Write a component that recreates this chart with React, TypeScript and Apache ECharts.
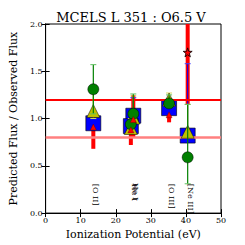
import React, { useEffect, useRef } from "react";
import * as echarts from "echarts";

// Ionization potentials (eV) of each plotted group
const clusterX = [13.6, 25.0, 24.3, 35.2, 40.5];
// Predicted / observed ratios per model
const blueVals = [0.95, 1.03, 0.92, 1.11, 0.82];
const yellowVals = [1.08, 1.01, 0.9, 1.2, 0.86];
const greenVals = [1.31, 1.05, 0.94, 1.16, 0.59];
const redVals = [0.91, 0.99, 0.88, 1.04];
const redStar = [[40.5, 1.7]];
// Error bar ranges [low, high]
const redErr = [[0.68, 0.93], [0.8, 1.25], [0.72, 1.0], [0.96, 1.12], [1.15, 2.0]];
const blueErr = [[0.9, 1.02], [0.98, 1.22], [0.88, 1.0], [1.05, 1.14], [0.82, 1.58]];
const yellowErr = [[1.0, 1.3], [0.95, 1.24], [0.85, 1.0], [1.15, 1.27], [0.8, 1.15]];
const greenErr = [[1.05, 1.57], [1.0, 1.26], [0.9, 1.05], [1.12, 1.25], [0.31, 1.15]];
// Reference lines
const refHigh = 1.2;
const refLow = 0.8;
// Line labels
const lineLabels = ["[O II]", "He I", "He I", "[O III]", "[Ne III]"];
const lineLabelX = [14.2, 25.3, 25.6, 35.8, 41.3];
const lineLabelY = [0.31, 0.31, 0.32, 0.31, 0.31];

const FONT = "DejaVu Serif";

function errSeries(name: string, ranges: number[][], color: string, width: number, cap: boolean, capColor: string, z: number) {
  return {
    name,
    type: "custom",
    z,
    data: ranges.map((r, i) => [clusterX[i], r[0], r[1]]),
    renderItem: (_p: any, api: any) => {
      const x = api.value(0);
      const p1 = api.coord([x, api.value(1)]);
      const p2 = api.coord([x, api.value(2)]);
      const children: any[] = [
        { type: "line", shape: { x1: p1[0], y1: p1[1], x2: p2[0], y2: p2[1] }, style: { stroke: color, lineWidth: width } },
      ];
      if (cap) {
        for (const p of [p1, p2]) {
          children.push({ type: "line", shape: { x1: p[0] - 3, y1: p[1], x2: p[0] + 3, y2: p[1] }, style: { stroke: capColor, lineWidth: 1 } });
        }
      }
      return { type: "group", children };
    },
  };
}

export default function App() {
  const ref = useRef<HTMLDivElement>(null);
  useEffect(() => {
    if (!ref.current) return;
    const chart = echarts.init(ref.current, undefined, { renderer: "svg" });
    const axisCommon = {
      axisLine: { show: true, lineStyle: { color: "#000", width: 1 } },
      axisTick: { show: true, inside: true, length: 4, lineStyle: { color: "#000" } },
      splitLine: { show: false },
    };
    chart.setOption({
      animation: false,
      backgroundColor: "#fff",
      title: {
        text: "MCELS L 351 : O6.5 V",
        left: 126,
        textAlign: "center",
        top: 6,
        textStyle: { fontFamily: FONT, fontSize: 13, fontWeight: "normal", color: "#000" },
      },
      grid: { left: 31, right: 24, top: 24, bottom: 24, show: true, borderColor: "#000", borderWidth: 1 },
      xAxis: [
        {
          type: "value", min: 0, max: 50, interval: 10, position: "bottom",
          ...axisCommon,
          axisLabel: { fontFamily: FONT, fontSize: 8, color: "#000", margin: 3 },
          name: "Ionization Potential (eV)", nameLocation: "middle", nameGap: 14,
          nameTextStyle: { fontFamily: FONT, fontSize: 11, color: "#000", verticalAlign: "top" },
        },
        {
          type: "value", min: 0, max: 50, interval: 10, position: "top",
          ...axisCommon, axisLabel: { show: false },
        },
      ],
      yAxis: [
        {
          type: "value", min: 0, max: 2, interval: 0.5, position: "left",
          ...axisCommon,
          axisLabel: { fontFamily: FONT, fontSize: 8, color: "#000", margin: 3, formatter: (v: number) => v.toFixed(1) },
          name: "Predicted Flux / Observed Flux", nameLocation: "middle", nameGap: 22,
          nameTextStyle: { fontFamily: FONT, fontSize: 11, color: "#000" },
        },
        {
          type: "value", min: 0, max: 2, interval: 0.5, position: "right",
          ...axisCommon, axisLabel: { show: false },
        },
      ],
      series: [
        {
          type: "line", data: [], z: 1,
          markLine: {
            silent: true, symbol: "none", label: { show: false },
            data: [
              { yAxis: refHigh, lineStyle: { color: "#ff0000", width: 2, type: "solid" } },
              { yAxis: refLow, lineStyle: { color: "#ff8080", width: 2.5, type: "solid" } },
            ],
          },
        },
        errSeries("redErr", redErr, "#ff0000", 4, false, "#ff0000", 2),
        errSeries("blueErr", blueErr, "#0000ff", 1, true, "#4040ff", 3),
        {
          type: "scatter", z: 4, symbol: "rect", symbolSize: 15,
          data: clusterX.map((x, i) => [x, blueVals[i]]),
          itemStyle: { color: "#0000ff", borderColor: "#000", borderWidth: 0.6, opacity: 1 },
        },
        errSeries("yellowErr", yellowErr, "#bfbf00", 1.2, true, "#d8d860", 5),
        {
          type: "scatter", z: 6, symbol: "triangle", symbolSize: [13, 13],
          data: clusterX.map((x, i) => [x, yellowVals[i]]),
          itemStyle: { color: "#bfbf00", borderColor: "#000", borderWidth: 0.5, opacity: 1 },
        },
        errSeries("greenErr", greenErr, "#008000", 1.2, true, "#5fbf5f", 7),
        {
          type: "scatter", z: 8, symbol: "circle", symbolSize: 11,
          data: clusterX.map((x, i) => [x, greenVals[i]]),
          itemStyle: { color: "#008000", borderColor: "#000", borderWidth: 0.5, opacity: 1 },
        },
        {
          type: "scatter", z: 9, symbol: "triangle", symbolSize: 6,
          data: redVals.map((v, i) => [clusterX[i], v]),
          itemStyle: { color: "#ff0000", borderColor: "#600", borderWidth: 0.4, opacity: 1 },
        },
        {
          type: "scatter", z: 9,
          symbol: "path://M50,0 L61,35 L98,35 L68,57 L79,91 L50,70 L21,91 L32,57 L2,35 L39,35 Z",
          symbolSize: 9,
          data: redStar,
          itemStyle: { color: "#ff0000", borderColor: "#000", borderWidth: 0.8, opacity: 1 },
        },
        {
          type: "scatter", z: 10, symbolSize: 0,
          itemStyle: { opacity: 1 },
          data: lineLabels.map((t, i) => ({ value: [lineLabelX[i], lineLabelY[i]], name: t })),
          label: {
            show: true, position: "inside", formatter: "{b}", rotate: -90,
            align: "left", verticalAlign: "middle", opacity: 1,
            fontFamily: FONT, fontSize: 8, color: "#000",
          },
        },
      ],
    });
    return () => chart.dispose();
  }, []);
  return <div ref={ref} style={{ position: "fixed", left: 0, top: 0, width: 245, height: 245, background: "#fff" }} />;
}
